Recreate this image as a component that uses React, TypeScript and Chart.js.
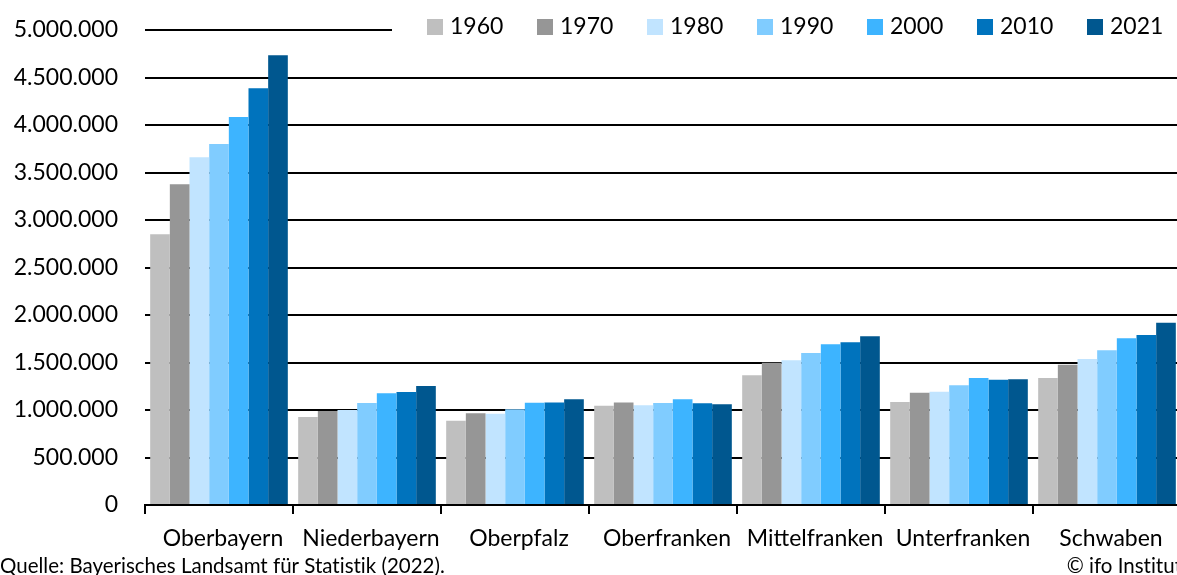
import React, { useEffect, useRef } from "react";
import { Chart, registerables } from "chart.js";

Chart.register(...registerables);

const categories = ["Oberbayern", "Niederbayern", "Oberpfalz", "Oberfranken", "Mittelfranken", "Unterfranken", "Schwaben"];
const years = ["1960", "1970", "1980", "1990", "2000", "2010", "2021"];
const colors = ["#BFBFBF", "#969696", "#C1E4FF", "#80CCFF", "#3DB4FF", "#0073BD", "#00578F"];

const v1960 = [2850000, 926000, 887000, 1045000, 1365000, 1084000, 1337000];
const v1970 = [3376000, 989000, 965000, 1080000, 1498000, 1182000, 1477000];
const v1980 = [3660000, 1000000, 960000, 1049000, 1523000, 1193000, 1537000];
const v1990 = [3800000, 1074000, 1007000, 1073000, 1600000, 1260000, 1628000];
const v2000 = [4084000, 1176000, 1077000, 1112000, 1691000, 1337000, 1755000];
const v2010 = [4386000, 1190000, 1080000, 1070000, 1712000, 1319000, 1789000];
const v2021 = [4733000, 1253000, 1112000, 1060000, 1776000, 1323000, 1919000];
const seriesValues = [v1960, v1970, v1980, v1990, v2000, v2010, v2021];

const sourceText = "Quelle: Bayerisches Landsamt für Statistik (2022).";
const creditText = "© ifo Institut";

const FONT = "Lato, 'Noto Sans', sans-serif";

function fmt(v: number): string {
  return String(Math.round(v)).replace(/\B(?=(\d{3})+(?!\d))/g, ".");
}

const overlayPlugin = {
  id: "overlay",
  afterDraw(chart: any) {
    const ctx = chart.ctx;
    ctx.save();
    try { (ctx as any).textRendering = "optimizeSpeed"; } catch (e) {}
    ctx.fillStyle = "#ffffff";
    ctx.fillRect(392, 12, chart.width - 392, 32);
    ctx.font = `23px ${FONT}`;
    ctx.textBaseline = "middle";
    ctx.textAlign = "left";
    years.forEach((y, i) => {
      const x0 = 427 + i * 110;
      ctx.fillStyle = colors[i];
      ctx.fillRect(x0, 19, 16, 16);
      ctx.fillStyle = "#000000";
      ctx.fillText(y, x0 + 23, 27);
    });
    ctx.font = `20.5px ${FONT}`;
    ctx.fillStyle = "#000000";
    ctx.textAlign = "left";
    ctx.fillText(sourceText, 0, 566);
    ctx.textAlign = "right";
    ctx.fillText(creditText, 1182, 566);
    ctx.restore();
  },
};

export default function App() {
  const ref = useRef<HTMLCanvasElement | null>(null);
  useEffect(() => {
    if (!ref.current) return;
    const chart = new Chart(ref.current, {
      type: "bar",
      data: {
        labels: categories,
        datasets: years.map((y, i) => ({
          label: y,
          data: seriesValues[i],
          backgroundColor: colors[i],
          borderWidth: 0,
          categoryPercentage: 0.93,
          barPercentage: 1.0,
        })),
      },
      options: {
        responsive: false,
        animation: false,
        devicePixelRatio: 1,
        layout: { padding: { top: 30, right: 19, left: 0, bottom: 0 } },
        plugins: { legend: { display: false }, tooltip: { enabled: false } },
        scales: {
          x: {
            offset: true,
            grid: {
              offset: true,
              drawOnChartArea: false,
              drawTicks: true,
              tickLength: 9,
              color: "#000000",
              lineWidth: 2,
            },
            border: { display: true, color: "#000000", width: 2 },
            ticks: { color: "#000000", font: { family: FONT, size: 23 }, padding: 11, labelOffset: 4, maxRotation: 0, autoSkip: false },
            afterFit: (s: any) => { s.height = 70; s.paddingLeft = 0; s.paddingRight = 0; },
          },
          y: {
            min: 0,
            max: 5000000,
            ticks: {
              stepSize: 500000,
              color: "#000000",
              font: { family: FONT, size: 23 },
              padding: 27,
              callback: (v: any) => fmt(Number(v)),
            },
            grid: { color: "#000000", lineWidth: 2, drawTicks: false },
            border: { display: false },
            afterFit: (s: any) => { s.width = 145; s.paddingTop = 0; s.paddingBottom = 0; },
          },
        },
      },
      plugins: [overlayPlugin],
    });
    return () => chart.destroy();
  }, []);
  return (
    <div style={{ position: "fixed", left: 0, top: 0, width: 1177, height: 575, overflow: "hidden", background: "#fff" }}>
      <canvas ref={ref} width={1200} height={575} style={{ display: "block", width: 1200, height: 575 }} />
    </div>
  );
}
